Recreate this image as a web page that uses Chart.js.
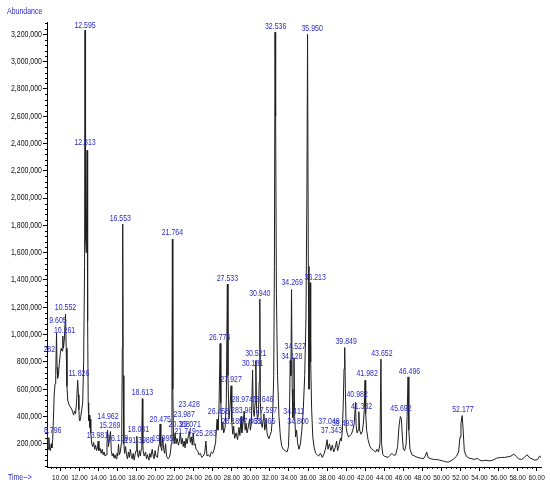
<!DOCTYPE html>
<html><head><meta charset="utf-8">
<script src="https://cdn.jsdelivr.net/npm/chart.js@4.4.1/dist/chart.umd.min.js"></script>
<style>html,body{margin:0;padding:0;background:#fff;overflow:hidden}#wrap{width:550px;height:489px}</style>
</head><body><div id="wrap"><canvas id="c" width="550" height="489"></canvas></div>
<script>
// Retention time (min)
const traceTime = [8.28,8.45,8.58,8.62,8.66,8.72,8.796,8.86,8.95,9.05,9.12,9.2,9.28,9.36,9.45,9.52,9.605,9.66,9.72,9.8,9.9,10.0,10.1,10.18,10.261,10.33,10.42,10.552,10.62,10.7,10.78,10.9,11.05,11.2,11.3,11.4,11.5,11.6,11.7,11.826,11.9,11.95,12.0,12.05,12.15,12.25,12.35,12.45,12.55,12.595,12.65,12.73,12.813,12.87,12.93,12.98,13.04,13.1,13.15,13.2,13.3,13.4,13.5,13.6,13.7,13.8,13.9,13.981,14.05,14.15,14.3,14.4,14.5,14.6,14.7,14.8,14.9,14.962,15.05,15.15,15.269,15.35,15.45,15.55,15.65,15.75,15.85,15.95,16.03,16.109,16.2,16.3,16.4,16.45,16.51,16.553,16.6,16.67,16.75,16.85,16.95,17.05,17.15,17.25,17.35,17.45,17.55,17.65,17.75,17.85,17.95,18.031,18.1,18.2,18.3,18.4,18.5,18.56,18.613,18.66,18.7,18.8,18.95,19.05,19.15,19.3,19.4,19.5,19.65,19.75,19.85,19.95,20.05,20.2,20.3,20.4,20.475,20.55,20.65,20.75,20.85,20.95,21.05,21.15,21.3,21.45,21.55,21.65,21.72,21.764,21.81,21.88,21.95,22.05,22.15,22.25,22.4,22.5,22.6,22.7,22.8,22.9,23.0,23.1,23.2,23.3,23.45,23.55,23.65,23.75,23.85,23.95,24.05,24.15,24.25,24.4,24.55,24.7,24.85,25.0,25.15,25.283,25.4,25.55,25.7,25.85,26.0,26.15,26.3,26.4,26.458,26.55,26.65,26.776,26.85,26.95,27.05,27.15,27.3,27.42,27.533,27.6,27.7,27.8,27.927,28.0,28.1,28.189,28.3,28.45,28.6,28.75,28.85,28.974,29.05,29.15,29.3,29.4,29.5,29.6,29.75,29.868,29.95,30.05,30.181,30.25,30.35,30.45,30.521,30.6,30.7,30.8,30.87,30.94,31.0,31.1,31.2,31.3,31.365,31.45,31.55,31.597,31.7,31.8,31.9,32.0,32.15,32.3,32.4,32.47,32.536,32.6,32.68,32.8,32.95,33.1,33.25,33.4,33.6,33.8,33.95,34.05,34.128,34.2,34.269,34.34,34.411,34.47,34.527,34.6,34.7,34.8,34.9,35.05,35.2,35.35,35.5,35.65,35.78,35.88,35.95,36.03,36.1,36.16,36.213,36.28,36.38,36.5,36.65,36.8,36.95,37.1,37.3,37.5,37.7,37.85,38.0,38.1,38.25,38.4,38.55,38.7,38.85,39.0,39.1,39.25,39.4,39.5,39.6,39.7,39.78,39.849,39.92,40.0,40.1,40.25,40.4,40.55,40.7,40.85,40.982,41.05,41.15,41.25,41.332,41.42,41.55,41.7,41.82,41.9,41.982,42.05,42.15,42.3,42.5,42.7,42.9,43.1,43.25,43.4,43.55,43.652,43.72,43.85,44.0,44.2,44.4,44.6,44.8,45.0,45.2,45.4,45.55,45.692,45.8,45.9,46.0,46.15,46.3,46.4,46.496,46.58,46.7,46.9,47.2,47.5,47.8,48.1,48.3,48.45,48.6,48.9,49.2,49.5,49.8,50.1,50.4,50.7,51.0,51.3,51.6,51.8,51.95,52.05,52.177,52.28,52.4,52.6,52.9,53.2,53.5,53.8,54.0,54.3,54.6,55.0,55.4,55.8,56.2,56.6,57.0,57.3,57.6,57.8,58.1,58.4,58.7,59.0,59.2,59.5,59.8,60.1,60.3,60.45];
// Abundance in thousands
const abundanceK = [850,845,830,300,180,160,245,170,150,200,170,230,380,560,640,700,1010,760,680,700,790,860,900,880,990,900,960,1150,900,620,520,490,470,455,430,410,440,420,500,665,560,450,380,370,400,450,500,800,1500,3230,1700,1600,2350,1100,500,370,410,320,380,280,200,180,210,160,190,150,170,220,150,170,130,160,120,140,110,120,200,300,180,230,290,150,110,130,95,120,90,130,110,195,120,140,200,300,900,1810,700,200,130,180,120,90,140,100,160,110,90,130,80,120,150,255,130,100,150,110,160,300,530,200,150,110,140,90,120,80,130,100,160,110,90,150,110,100,170,200,345,180,150,250,160,130,200,110,90,100,130,200,600,1700,600,250,200,280,200,240,190,220,280,200,240,180,220,170,240,200,260,290,210,250,190,280,190,200,160,150,120,130,100,110,130,220,110,120,105,140,130,160,210,330,380,300,450,935,500,300,360,280,320,500,1370,700,380,450,625,360,270,330,240,280,230,320,260,400,280,330,440,300,350,280,330,380,300,350,740,450,400,500,810,450,380,420,650,1260,500,350,320,380,420,300,330,380,280,250,240,260,290,430,700,1500,3215,2600,1300,700,400,250,180,160,150,140,180,400,810,700,1330,600,390,500,830,400,250,300,210,160,200,300,450,700,1100,2000,3200,1500,600,900,1380,800,450,250,170,130,120,110,130,100,130,170,230,160,200,150,190,140,170,220,150,190,240,220,300,500,750,905,600,320,280,250,260,270,300,350,505,330,280,300,435,300,270,290,360,450,665,420,300,230,180,160,150,140,160,140,200,820,200,120,110,105,100,115,130,115,120,180,330,400,380,250,160,150,200,400,690,300,160,120,110,100,95,90,110,140,100,90,85,85,80,75,70,65,75,90,110,140,250,350,407,300,150,110,95,90,85,95,80,75,80,75,80,95,100,100,105,110,125,110,90,85,100,120,100,90,80,85,110,100];

// Retention-time annotations as printed on the chromatogram
const peakLabels = ["8.282","8.796","9.605","10.261","10.552","11.826","12.595","12.813","13.981","14.962","15.269","16.109","16.553","18.031","191.3988","18.613","19.995","20.475","21.764","20.368","23.071","21.749","23.987","23.428","25.283","26.458","26.776","27.533","27.927","28.189","28.974","38.646","283.98","27.597","27.868","31.365","30.181","30.521","30.940","32.536","34.269","34.527","34.128","34.411","34.800","35.950","36.213","37.049","37.343","39.493","39.849","40.982","41.332","41.982","43.652","45.692","46.496","52.177"];
const labelTime = [8.54,9.2,9.75,10.45,10.55,11.95,12.6,12.6,13.9,15.0,15.2,16.03,16.3,18.2,18.27,18.613,20.75,20.49,21.764,22.48,23.63,23.1,23.0,23.52,25.3,26.6,26.72,27.533,27.927,28.05,29.1,31.24,29.04,31.64,29.93,31.45,30.181,30.521,30.94,32.6,34.33,34.65,34.3,34.5,34.95,36.43,36.75,38.2,38.45,39.63,40.0,41.15,41.62,42.2,43.75,45.75,46.65,52.25];
const labelAbundK = [886,295,1105,1032,1200,711,3266,2404,258,397,332,237,1850,302,222,572,237,375,1748,339,339,288,412,485,273,434,981,1412,667,361,521,521,441,441,361,361,784,864,1302,3258,1383,915,842,434,361,3244,1419,361,295,346,945,558,470,711,857,456,726,448];

const xTickValues = [10,12,14,16,18,20,22,24,26,28,30,32,34,36,38,40,42,44,46,48,50,52,54,56,58,60];
const yTickValues = [200000,400000,600000,800000,1000000,1200000,1400000,1600000,1800000,2000000,2200000,2400000,2600000,2800000,3000000,3200000];

const FONT = "'Liberation Sans',Arial,sans-serif";
const BLUE = '#2a2ac8';
const SQUEEZE = 0.82;

const points = traceTime.map((t,i)=>({x:t, y:abundanceK[i]*1000}));

function narrowText(ctx, s, px, py, align){
  ctx.save();
  ctx.translate(px, py);
  ctx.scale(SQUEEZE, 1);
  ctx.textAlign = align;
  ctx.fillText(s, 0, 0);
  ctx.restore();
}

const overlay = {
  id:'overlay',
  afterDatasetsDraw(chart){
    const {ctx, chartArea:a, scales:{x,y}} = chart;
    ctx.save();
    // minor ticks
    ctx.strokeStyle='#000'; ctx.lineWidth=1;
    ctx.beginPath();
    for(let v=9; v<=60.01; v+=0.5){
      if (Math.abs(v-Math.round(v/2)*2)<1e-6) continue;
      const px=Math.round(x.getPixelForValue(v))+0.5;
      ctx.moveTo(px,a.bottom); ctx.lineTo(px,a.bottom+2);
    }
    for(let v=40000; v<=3280000; v+=40000){
      if (v%200000===0) continue;
      const py=Math.round(y.getPixelForValue(v))+0.5;
      ctx.moveTo(a.left,py); ctx.lineTo(a.left-2,py);
    }
    ctx.stroke();
    // tick labels
    ctx.fillStyle='#111'; ctx.textBaseline='middle';
    ctx.font="8.5px "+FONT;
    yTickValues.forEach(v=>narrowText(ctx, v.toLocaleString('en-US'), a.left-5, y.getPixelForValue(v), 'right'));
    ctx.font="8px "+FONT;
    xTickValues.forEach(v=>narrowText(ctx, v.toFixed(2), x.getPixelForValue(v), a.bottom+11, 'center'));
    ctx.restore();
    // peak labels
    ctx.save();
    ctx.beginPath(); ctx.rect(a.left-4, 0, chart.width-a.left+4, a.bottom); ctx.clip();
    ctx.fillStyle=BLUE; ctx.font="8.5px "+FONT; ctx.textBaseline='middle';
    peakLabels.forEach((s,i)=>{
      narrowText(ctx, s, x.getPixelForValue(labelTime[i]), y.getPixelForValue(labelAbundK[i]*1000), 'center');
    });
    ctx.restore();
    ctx.save();
    ctx.fillStyle=BLUE; ctx.font="8.5px "+FONT; ctx.textBaseline='middle';
    narrowText(ctx, 'Abundance', 7, 12, 'left');
    narrowText(ctx, 'Time-->', 8, 478, 'left');
    ctx.restore();
  }
};

new Chart(document.getElementById('c'), {
  type:'line',
  data:{datasets:[{data:points, borderColor:'#1e1e1e', borderWidth:1, pointRadius:0, tension:0, fill:false}]},
  options:{
    responsive:false, animation:false, devicePixelRatio:1,
    layout:{padding:{top:22,right:9,left:0,bottom:0}},
    plugins:{legend:{display:false}, tooltip:{enabled:false}},
    scales:{
      x:{type:'linear', min:8.605, max:60.45,
        afterBuildTicks:s=>{s.ticks=xTickValues.map(v=>({value:v}));},
        afterFit:s=>{s.height=22;},
        ticks:{display:false},
        grid:{drawOnChartArea:false, drawTicks:true, tickLength:4, color:'#000'},
        border:{color:'#000', width:1}},
      y:{type:'linear', min:30000, max:3290000,
        afterBuildTicks:s=>{s.ticks=yTickValues.map(v=>({value:v}));},
        afterFit:s=>{s.width=47;},
        ticks:{display:false},
        grid:{drawOnChartArea:false, drawTicks:true, tickLength:4, color:'#000'},
        border:{color:'#000', width:1}}
    }
  },
  plugins:[overlay]
});
</script></body></html>
